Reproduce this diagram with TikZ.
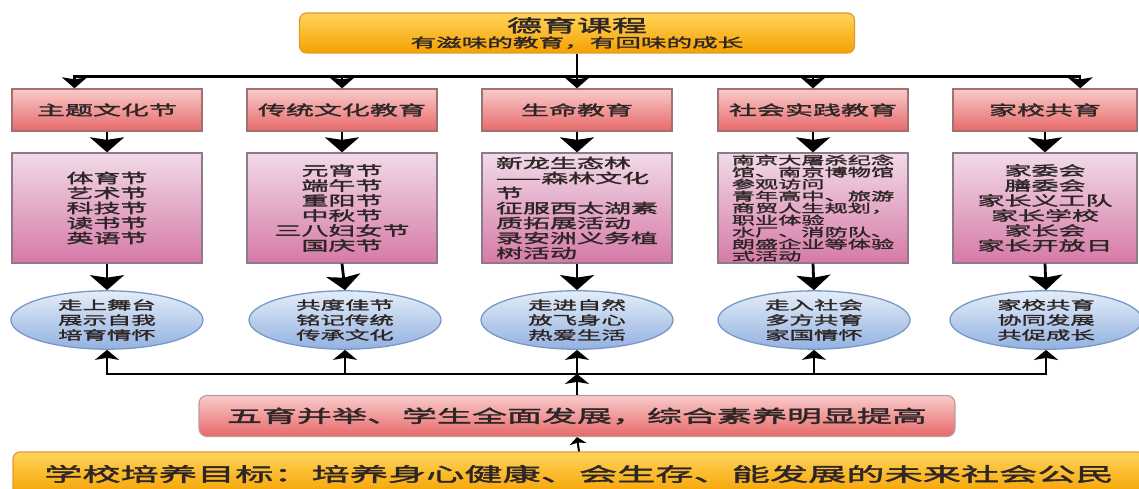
\documentclass[tikz,border=0pt]{standalone}
\usepackage{fontspec}
\newfontfamily\cjk[FakeStretch=2,FakeBold=2.2]{Noto Sans CJK SC}
\usetikzlibrary{shapes.geometric,arrows.meta,calc}
\definecolor{goldtop}{HTML}{FFD45A}
\definecolor{goldbot}{HTML}{F5A100}
\definecolor{goldline}{HTML}{E29A2E}
\definecolor{redtop}{HTML}{F9CACA}
\definecolor{redbot}{HTML}{E76969}
\definecolor{redline}{HTML}{9C7272}
\definecolor{pinktop}{HTML}{F1DAE8}
\definecolor{pinkbot}{HTML}{D67AA7}
\definecolor{pinkline}{HTML}{8E7A8A}
\definecolor{bluetop}{HTML}{E4EDF9}
\definecolor{bluebot}{HTML}{93B2E0}
\definecolor{blueline}{HTML}{7898C8}
\definecolor{ink}{HTML}{2E2626}

\tikzset{
  goldbox/.style={draw=goldline, line width=1.2pt, rounded corners=7pt, top color=goldtop, bottom color=goldbot, inner sep=0pt, align=center, text=ink},
  catbox/.style={draw=redline, line width=1.3pt, top color=redtop, bottom color=redbot, minimum width=190pt, minimum height=42pt, inner sep=0pt, text=ink, font=\fontsize{14}{15}\cjk},
  listbox/.style={draw=pinkline, line width=1.3pt, top color=pinktop, bottom color=pinkbot, minimum width=190pt, minimum height=110pt, inner sep=0pt, align=center, text=ink, font=\fontsize{13.5}{15}\cjk},
  aimnode/.style={ellipse, draw=blueline, line width=1.3pt, top color=bluetop, bottom color=bluebot, minimum width=192pt, minimum height=56pt, inner sep=0pt, align=center, text=ink, font=\fontsize{12.2}{15}\cjk},
  resbox/.style={draw=redline!70, line width=1.2pt, rounded corners=8pt, top color=redtop, bottom color=redbot, minimum width=756pt, minimum height=41pt, inner sep=0pt, text=ink, font=\fontsize{17.5}{20}\cjk},
  arrT/.style={line width=2.4pt, -{Stealth[length=11pt,width=25pt,inset=2pt]}},
  arrB/.style={line width=2.8pt, -{Stealth[length=15pt,width=34pt,inset=2.5pt]}},
  arrU/.style={line width=2.4pt, -{Stealth[length=10pt,width=24pt,inset=2pt]}},
  arrS/.style={line width=2pt, -{Stealth[length=7pt,width=17pt,inset=1.5pt]}}
}

\begin{document}
\begin{tikzpicture}[x=1pt,y=-1pt]
\path[use as bounding box, clip] (0,0) rectangle (1139,489);
\fill[white] (0,0) rectangle (1139,489);

\node[goldbox, minimum width=555pt, minimum height=40pt, font=\cjk] (theme) at (577,33)
  {\fontsize{17.5}{19}\selectfont 德育课程\\[2pt]\fontsize{12.8}{14}\selectfont 有滋味的教育，有回味的成长};

\node[catbox] (cat1) at (107,110) {主题文化节};
\node[catbox] (cat2) at (342,110) {传统文化教育};
\node[catbox] (cat3) at (577,110) {生命教育};
\node[catbox] (cat4) at (813,110) {社会实践教育};
\node[catbox, minimum width=184pt] (cat5) at (1045,110) {家校共育};

\node[listbox] (list1) at (107,208) {体育节\\艺术节\\科技节\\读书节\\英语节};
\node[listbox] (list2) at (342,208) {元宵节\\端午节\\重阳节\\中秋节\\三八妇女节\\国庆节};
\node[listbox, align=left] (list3) at (577,208) {新龙生态林\\——森林文化\\节\\征服西太湖素\\质拓展活动\\录安洲义务植\\树活动};
\node[listbox, align=left, font=\fontsize{11.6}{12}\cjk] (list4) at (813,208) {南京大屠杀纪念\\馆、南京博物馆\\参观访问\\青年高中、旅游\\商贸人生规划，\\职业体验\\水厂、消防队、\\朗盛企业等体验\\式活动};
\node[listbox, minimum width=184pt] (list5) at (1045,208) {家委会\\膳委会\\家长义工队\\家长学校\\家长会\\家长开放日};

\node[aimnode] (aim1) at (107,320) {走上舞台\\展示自我\\培育情怀};
\node[aimnode] (aim2) at (345,320) {共度佳节\\铭记传统\\传承文化};
\node[aimnode] (aim3) at (577,320) {走进自然\\放飞身心\\热爱生活};
\node[aimnode] (aim4) at (814,320) {走入社会\\多方共育\\家国情怀};
\node[aimnode] (aim5) at (1046,320) {家校共育\\协同发展\\共促成长};

\node[resbox] (result) at (577,416) {五育并举、学生全面发展，综合素养明显提高};
\node[goldbox, minimum width=1132pt, minimum height=44pt, font=\fontsize{19.1}{21}\cjk] (goal) at (579,474) {学校培养目标：培养身心健康、会生存、能发展的未来社会公民};

\coordinate (bus) at ($(theme.south)+(0,23)$);
\draw[arrT] (theme.south) -- (cat3.north);
\draw[arrT] (bus) -| ($(cat1.north west)!.33!(cat1.north east)$);
\draw[arrT] (bus) -| (cat2.north);
\draw[arrT] (bus) -| (cat4.north);
\draw[arrT] (bus) -| ($(cat5.north west)!.69!(cat5.north east)$);

\draw[arrB] (cat1.south) -- (list1.north);
\draw[arrB] (cat2.south) -- (list2.north);
\draw[arrB] (cat3.south) -- (list3.north);
\draw[arrB] (cat4.south) -- (list4.north);
\draw[arrB] (cat5.south) -- (list5.north);

\draw[arrB] (list1.south) -- (aim1.north);
\draw[arrB] (list2.south) -- (aim2.north);
\draw[arrB] (list3.south) -- (aim3.north);
\draw[arrB] (list4.south) -- (aim4.north);
\draw[arrB] (list5.south) -- (aim5.north);

\coordinate (base) at ($(result.north)+(0,-21)$);
\draw[arrU] (result.north) -- (base);
\draw[arrU] (base) -| (aim1.south);
\draw[arrU] (base) -| (aim2.south);
\draw[arrU] (base) -- (aim3.south);
\draw[arrU] (base) -| (aim4.south);
\draw[arrU] (base) -| (aim5.south);
\draw[arrS] (goal.north) -- (result.south);
\end{tikzpicture}
\end{document}
